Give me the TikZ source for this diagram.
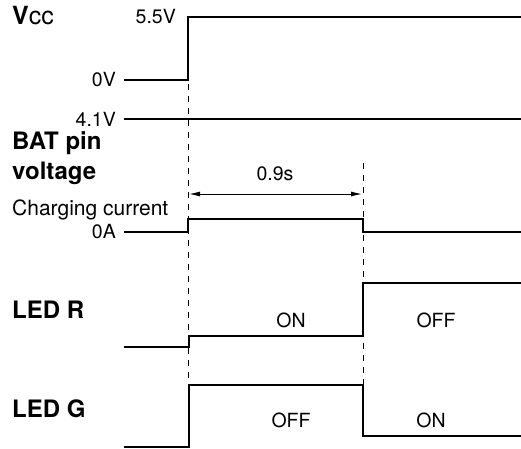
\documentclass[tikz,border=0pt]{standalone}
\usepackage{fontspec}
\setmainfont{TeX Gyre Heros}
\usetikzlibrary{arrows.meta}
\tikzset{
  wave/.style={line width=2.7pt, line join=miter, line cap=butt},
  guide/.style={line width=1pt, dash pattern=on 6pt off 6pt},
  small/.style={font=\fontsize{19.5}{21}\selectfont, inner sep=0pt},
  big/.style={font=\fontsize{24}{30}\selectfont\bfseries, inner sep=0pt, anchor=base west},
  lvl/.style={small, anchor=east},
}
\begin{document}
\begin{tikzpicture}[x=1pt,y=-1pt]
\useasboundingbox (0,0) rectangle (521,448);
% labels left
\node[anchor=base west, inner sep=0pt, font=\fontsize{25}{27}\selectfont] (vcc) at (12,24) {{\bfseries V}cc};
\node[small, anchor=base east] (v55) at (176,23) {5.5V};
\node[lvl] (v0) at (116,80) {0V};
\node[lvl] (v41) at (116,119) {4.1V};
\node[big] (bat1) at (12,149) {BAT pin};
\node[big] (bat2) at (12,179) {voltage};
\node[anchor=base west, inner sep=0pt, font=\fontsize{21}{22}\selectfont] (chg) at (12,215) {Charging current};
\node[lvl] (a0) at (116,232) {0A};
\node[big] (ledr) at (12,318) {LED R};
\node[big] (ledg) at (12,417) {LED G};
% guides
\draw[guide] (188,84) -- (188,384);
\draw[guide] (363,163) -- (363,384);
% Vcc
\draw[wave] (124,80) -- (188,80) -- (188,17) -- (521,17);
% BAT
\draw[wave] (124,119) -- (521,119);
% time arrow
\coordinate (ar1) at (189,194);
\coordinate (ar2) at (362,194);
\draw[line width=1pt, {Latex[length=11pt,width=5pt]}-{Latex[length=11pt,width=5pt]}] (ar1) -- (ar2);
\node[small, anchor=base] (dt) at (275,180) {0.9s};
% charging current
\draw[wave] (124,232) -- (188,232) -- (188,219) -- (363,219) -- (363,232) -- (521,232);
% LED R
\draw[wave] (124,347) -- (189,347) -- (189,336) -- (363,336) -- (363,283) -- (521,283);
\node[small, anchor=base] (ron) at (291,327) {ON};
\node[small, anchor=base] (roff) at (436,327) {OFF};
% LED G
\draw[wave] (124,447) -- (189,447) -- (189,385) -- (363,385) -- (363,436) -- (521,436);
\node[small, anchor=base] (goff) at (291,427) {OFF};
\node[small, anchor=base] (gon) at (431,427) {ON};
\end{tikzpicture}
\end{document}
